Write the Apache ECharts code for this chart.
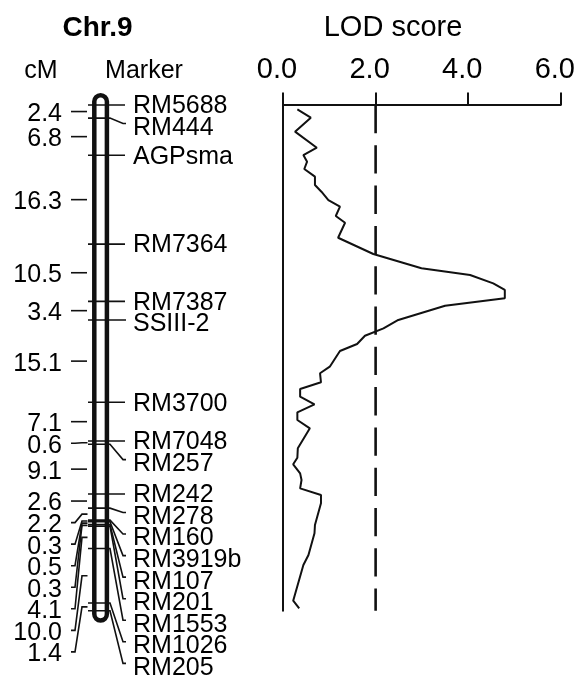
<!DOCTYPE html>
<html><head><meta charset="utf-8">
<script src="https://cdn.jsdelivr.net/npm/echarts@6/dist/echarts.min.js"></script>
<style>html,body{margin:0;padding:0;background:#fff}#c{width:578px;height:675px}</style>
</head><body><div id="c"></div>
<script>
// ---- data ----
const chromosomeName = 'Chr.9';
const markers = ['RM5688','RM444','AGPsma','RM7364','RM7387','SSIII-2','RM3700','RM7048','RM257','RM242','RM278','RM160','RM3919b','RM107','RM201','RM1553','RM1026','RM205'];
const intervalsCM = [2.4, 6.8, 16.3, 10.5, 3.4, 15.1, 7.1, 0.6, 9.1, 2.6, 2.2, 0.3, 0.5, 0.3, 4.1, 10.0, 1.4];
const lodTicks = [0, 2, 4, 6];
const lodThreshold = 2.0;
const lodPosCM = [0.79, 2.33, 4.89, 7.83, 9.17, 10.39, 11.73, 13.14, 14.67, 15.89, 17.42, 18.64, 20.35, 21.58, 24.33, 27.31, 29.94, 31.16, 32.69, 33.91, 35.44, 36.79, 39.41, 40.94, 42.29, 43.81, 45.10, 47.97, 49.18, 50.83, 52.06, 53.47, 54.87, 56.33, 57.75, 59.27, 62.93, 64.66, 65.87, 67.52, 68.74, 70.27, 71.49, 73.02, 76.99, 78.51, 82.49, 84.33, 90.87, 92.27];
const lodScore = [0.31, 0.60, 0.26, 0.73, 0.44, 0.52, 0.46, 0.69, 0.69, 0.83, 0.98, 1.23, 1.14, 1.34, 1.19, 1.95, 2.99, 4.04, 4.54, 4.79, 4.79, 3.50, 2.49, 2.17, 1.77, 1.60, 1.23, 1.01, 0.80, 0.82, 0.37, 0.37, 0.68, 0.31, 0.31, 0.58, 0.32, 0.31, 0.22, 0.37, 0.40, 0.37, 0.82, 0.82, 0.69, 0.68, 0.55, 0.44, 0.22, 0.35];

// ---- derived ----
const markerPos = [0];
intervalsCM.forEach((d, i) => markerPos.push(Math.round((markerPos[i] + d) * 100) / 100));
const mapLen = markerPos[markerPos.length - 1];
const intervalMid = intervalsCM.map((d, i) => (markerPos[i] + markerPos[i + 1]) / 2);
function spread(vals, gap) {
  const out = [];
  vals.forEach((v, i) => out.push(i === 0 ? v : Math.max(v, out[i - 1] + gap)));
  return out;
}
const LABEL_GAP = 3.95;
const markerLabelPos = spread(markerPos, LABEL_GAP);
const cmLabelPos = spread(intervalMid, LABEL_GAP);

const FONT = '"Liberation Sans", Arial, Helvetica, sans-serif';
const INK = '#111';
const TXT = '#000';
const CHR_X = 100.6;
const TY = 2.5; // optical centring of text glyphs

const chart = echarts.init(document.getElementById('c'), null, {renderer: 'canvas'});

function txt(x, y, s, size, align, bold) {
  return {type: 'text', x: x, y: y + TY, style: {text: s, font: (bold ? 'bold ' : '') + size + 'px ' + FONT, fill: TXT,
    align: align, textAlign: align, verticalAlign: 'middle', textVerticalAlign: 'middle'}};
}

chart.setOption({
  animation: false,
  backgroundColor: '#fff',
  grid: [
    {left: 283, top: 105, width: 278.3, height: 505.7},
    {left: 0, top: 105, width: 283, height: 505.7}
  ],
  xAxis: [
    {gridIndex: 0, type: 'value', position: 'top', min: lodTicks[0], max: lodTicks[lodTicks.length - 1], interval: lodTicks[1] - lodTicks[0],
      axisLine: {show: true, onZero: false, lineStyle: {color: INK, width: 2}},
      axisTick: {show: true, inside: false, length: 12.5, lineStyle: {color: INK, width: 2}},
      axisLabel: {show: true, formatter: v => v.toFixed(1), fontSize: 29, fontFamily: FONT, color: TXT, margin: 21,
        showMinLabel: true, showMaxLabel: true, padding: [0, 12, 0, 0]},
      splitLine: {show: false}},
    {gridIndex: 1, type: 'value', min: 0, max: 283, show: false}
  ],
  yAxis: [
    {gridIndex: 0, type: 'value', inverse: true, min: 0, max: mapLen,
      axisLine: {show: true, onZero: false, lineStyle: {color: INK, width: 2}},
      axisTick: {show: false}, axisLabel: {show: false}, splitLine: {show: false}},
    {gridIndex: 1, type: 'value', inverse: true, min: 0, max: mapLen, show: false}
  ],
  graphic: [
    txt(97.5, 25.5, chromosomeName, 28, 'center', true),
    txt(41, 68.5, 'cM', 25, 'center'),
    txt(144, 68.5, 'Marker', 25, 'center'),
    txt(393, 25.5, 'LOD score', 29, 'center')
  ],
  series: [
    {type: 'line', xAxisIndex: 0, yAxisIndex: 0, data: lodScore.map((v, i) => [v, lodPosCM[i]]),
      showSymbol: false, symbol: 'none', lineStyle: {color: INK, width: 2}, z: 3},
    {type: 'line', xAxisIndex: 0, yAxisIndex: 0, data: [[lodThreshold, 0], [lodThreshold, mapLen]],
      showSymbol: false, symbol: 'none', lineStyle: {color: INK, width: 2.6, type: [28.3, 12]}, z: 2},
    {type: 'custom', xAxisIndex: 1, yAxisIndex: 1, clip: false, z: 4,
      data: [[CHR_X, 0, mapLen]],
      renderItem(params, api) {
        const t = api.coord([api.value(0), api.value(1)]);
        const b = api.coord([api.value(0), api.value(2)]);
        return {type: 'rect', shape: {x: t[0] - 6.3, y: t[1] - 9.7, width: 12.6, height: b[1] - t[1] + 19.4, r: 6.3},
          style: {fill: 'none', stroke: INK, lineWidth: 4.5}};
      }},
    {type: 'custom', xAxisIndex: 1, yAxisIndex: 1, clip: false, z: 5,
      data: markers.map((m, i) => [i, markerPos[i], markerLabelPos[i]]),
      renderItem(params, api) {
        const i = api.value(0);
        const y = api.coord([0, api.value(1)])[1];
        const yl = api.coord([0, api.value(2)])[1];
        const X = v => api.coord([v, 0])[0];
        const pts = Math.abs(yl - y) < 0.5
          ? [[X(88), y], [X(125), y]]
          : [[X(88), y], [X(110), y], [X(123), yl - 3], [X(126), yl - 3]];
        return {type: 'group', children: [
          {type: 'polyline', shape: {points: pts}, style: {stroke: INK, lineWidth: 1.6, fill: null}},
          {type: 'text', x: X(133), y: yl + TY - 1, style: {text: markers[i], font: '25px ' + FONT, fill: TXT,
            align: 'left', textAlign: 'left', verticalAlign: 'middle', textVerticalAlign: 'middle'}}
        ]};
      }},
    {type: 'custom', xAxisIndex: 1, yAxisIndex: 1, clip: false, z: 5,
      data: intervalsCM.map((d, i) => [i, intervalMid[i], cmLabelPos[i]]),
      renderItem(params, api) {
        const i = api.value(0);
        const y = api.coord([0, api.value(1)])[1];
        const yl = api.coord([0, api.value(2)])[1];
        const X = v => api.coord([v, 0])[0];
        const pts = Math.abs(yl - y) < 0.5
          ? [[X(71), y], [X(87), y]]
          : [[X(71), yl], [X(75), yl], [X(82), y], [X(87.5), y]];
        return {type: 'group', children: [
          {type: 'polyline', shape: {points: pts}, style: {stroke: INK, lineWidth: 1.6, fill: null}},
          {type: 'text', x: X(62), y: yl + TY, style: {text: intervalsCM[i].toFixed(1), font: '25px ' + FONT, fill: TXT,
            align: 'right', textAlign: 'right', verticalAlign: 'middle', textVerticalAlign: 'middle'}}
        ]};
      }}
  ]
});
</script>
</body></html>
